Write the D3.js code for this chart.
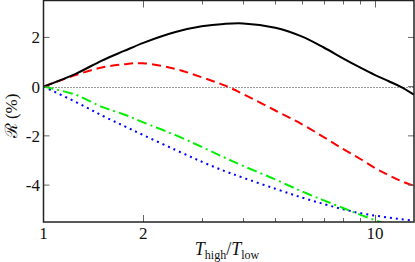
<!DOCTYPE html>
<html>
<head>
<meta charset="utf-8">
<script src="https://d3js.org/d3.v7.min.js"></script>
<style>
  body { margin: 0; background: #fff; }
  text { font-family: "Liberation Serif", "DejaVu Serif", serif; fill: #111; }
</style>
</head>
<body>
<div id="chart"></div>
<script>
// temperature ratio samples
var ratio = [1, 1.25, 1.5, 1.75, 2, 2.5, 3, 3.5, 4, 5, 6, 7, 8, 9, 10, 11, 12, 13.1];
// R (%) for the four curves
var solidBlack = [0, 0.52, 1.06, 1.45, 1.78, 2.22, 2.45, 2.55, 2.57, 2.39, 2.04, 1.59, 1.15, 0.78, 0.47, 0.22, -0.02, -0.33];
var dashedRed  = [0, 0.47, 0.78, 0.91, 0.95, 0.72, 0.38, 0.06, -0.30, -0.97, -1.52, -2.05, -2.53, -2.93, -3.31, -3.6, -3.84, -4.03];
var dashDotGreen = [0, -0.33, -0.82, -1.13, -1.45, -1.97, -2.45, -2.87, -3.22, -3.77, -4.25, -4.62, -4.93, -5.2, -5.43, -5.62, -5.8, -5.95];
var dottedBlue = [0, -0.62, -1.17, -1.6, -1.97, -2.57, -3.05, -3.42, -3.7, -4.15, -4.5, -4.77, -4.98, -5.14, -5.24, -5.32, -5.39, -5.44];

var yTicks = [-4, -2, 0, 2];
var xMajor = [1, 2, 10];
var xMinor = [3, 4, 5, 6, 7, 8, 9];

var W = 415, H = 262;
var pL = 43.5, pR = 414, pT = 0.5, pB = 222;

var svg = d3.select("#chart").append("svg")
    .attr("width", W).attr("height", H);

var x = d3.scaleLog().domain([1, 13.1]).range([pL, pR]);
var y = d3.scaleLinear().domain([-5.5, 3.5]).range([pB, pT]);

svg.append("clipPath").attr("id", "clip")
  .append("rect").attr("x", pL).attr("y", pT)
  .attr("width", pR - pL).attr("height", pB - pT);

// zero line
svg.append("line")
    .attr("x1", pL).attr("x2", pR)
    .attr("y1", Math.round(y(0)) + 0.5).attr("y2", Math.round(y(0)) + 0.5)
    .style("stroke", "#333").style("stroke-width", 1)
    .style("stroke-dasharray", "1,2");

var line = d3.line().curve(d3.curveCatmullRom.alpha(0.5));

function draw(vals, color, dash, width) {
  var pts = ratio.map(function(r, i) { return [x(r), y(vals[i])]; });
  svg.append("path")
      .attr("clip-path", "url(#clip)")
      .attr("d", line(pts))
      .style("fill", "none")
      .style("stroke", color)
      .style("stroke-width", width)
      .style("stroke-dasharray", dash);
}

draw(dottedBlue, "#0000ff", "2,4", 2);
draw(dashDotGreen, "#00f000", "10,4,2,4", 2);
draw(dashedRed, "#ff0000", "9,5", 2);
draw(solidBlack, "#000", null, 2);

// ticks: inside on all four sides
var tickColor = "#666";
yTicks.forEach(function(t) {
  var yy = y(t);
  svg.append("line").attr("x1", pL).attr("x2", pL + 6).attr("y1", yy).attr("y2", yy)
     .style("stroke", tickColor).style("stroke-width", 1);
  svg.append("line").attr("x1", pR - 6).attr("x2", pR).attr("y1", yy).attr("y2", yy)
     .style("stroke", tickColor).style("stroke-width", 1);
  svg.append("text").attr("x", 40).attr("y", yy + 6)
     .attr("text-anchor", "end").style("font-size", "17px").text(t);
});

xMajor.concat(xMinor).forEach(function(t) {
  var xx = Math.round(x(t)) + 0.5;
  var len = xMajor.indexOf(t) >= 0 ? 7 : 4;
  if (t === 1) return;
  svg.append("line").attr("x1", xx).attr("x2", xx).attr("y1", pB).attr("y2", pB - len)
     .style("stroke", tickColor).style("stroke-width", 1);
  svg.append("line").attr("x1", xx).attr("x2", xx).attr("y1", pT).attr("y2", pT + len)
     .style("stroke", tickColor).style("stroke-width", 1);
});

xMajor.forEach(function(t) {
  svg.append("text").attr("x", x(t)).attr("y", 239)
     .attr("text-anchor", "middle").style("font-size", "17px").text(t);
});

// frame
svg.append("rect")
    .attr("x", pL).attr("y", pT)
    .attr("width", pR - pL).attr("height", pB - pT)
    .style("fill", "none").style("stroke", "#222").style("stroke-width", 1.5);

// axis labels
var xl = svg.append("text").attr("x", 227).attr("y", 255)
    .attr("text-anchor", "middle").style("font-size", "18px");
xl.append("tspan").style("font-style", "italic").text("T");
xl.append("tspan").attr("dy", 4).style("font-size", "12px").text("high");
xl.append("tspan").attr("dy", -4).text("/");
xl.append("tspan").style("font-style", "italic").text("T");
xl.append("tspan").attr("dy", 4).style("font-size", "12px").text("low");

svg.append("text")
    .attr("transform", "translate(17,116) rotate(-90)")
    .attr("text-anchor", "middle").style("font-size", "17px")
    .text("ℛ (%)");
</script>
</body>
</html>
